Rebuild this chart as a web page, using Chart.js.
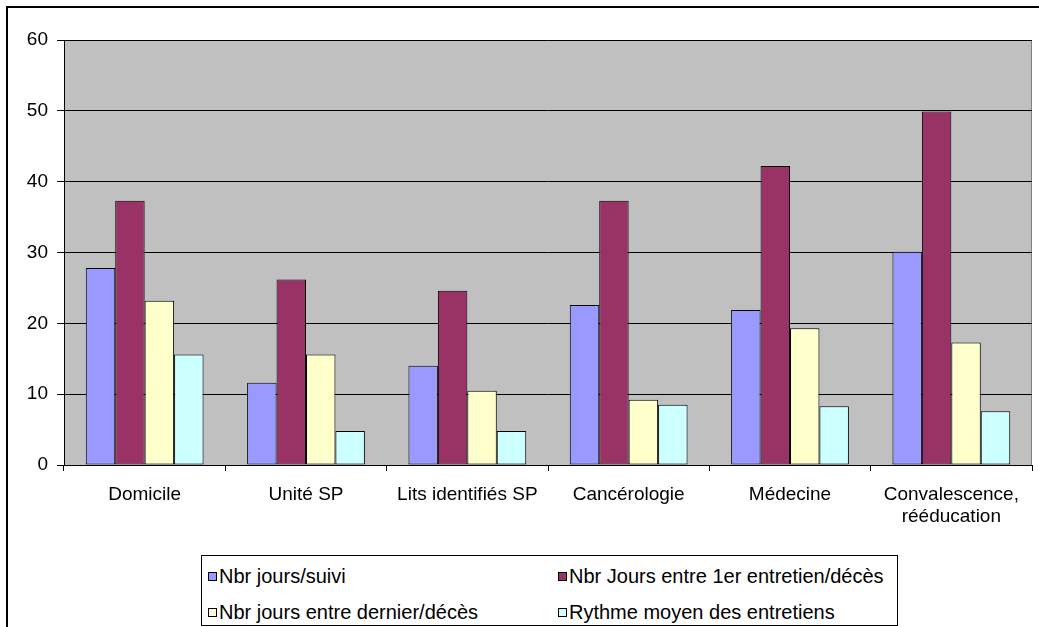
<!DOCTYPE html>
<html>
<head>
<meta charset="utf-8">
<script src="https://cdn.jsdelivr.net/npm/chart.js@4"></script>
<style>
    html, body { margin: 0; padding: 0; background: #fff; }
    #wrap { position: relative; width: 1039px; height: 627px; overflow: hidden; }
    #frame { position: absolute; left: 6px; top: 6px; width: 1100px; height: 700px;
             border-left: 2px solid #000; border-top: 2px solid #000; }
    canvas { position: absolute; left: 0; top: 0; }
    #legend { position: absolute; left: 201px; top: 555px; width: 695px; height: 69px;
              border: 1px solid #000; background: #fff;
              font-family: 'Liberation Sans', Arial, sans-serif; font-size: 20px; color: #000; }
    .item { position: absolute; white-space: nowrap; line-height: 22px; }
    .item i { display: inline-block; width: 7px; height: 7px; border: 1px solid #000;
              margin-right: 2px; vertical-align: 2px; }
</style>
</head>
<body>
<div id="wrap">
    <div id="frame"></div>
    <canvas id="barChart" width="1039" height="627"></canvas>
    <div id="legend"></div>
</div>
<script>
// ============================================
// DATA
// ============================================
const categories = ['Domicile', 'Unité SP', 'Lits identifiés SP', 'Cancérologie', 'Médecine', ['Convalescence,', 'rééducation']];
const seriesNames = ['Nbr jours/suivi', 'Nbr Jours entre 1er entretien/décès', 'Nbr jours entre dernier/décès', 'Rythme moyen des entretiens'];
const joursSuivi     = [27.8, 11.6, 14.0, 22.6, 21.9, 30.1];
const joursPremier   = [37.3, 26.2, 24.6, 37.3, 42.2, 49.9];
const joursDernier   = [23.2, 15.6, 10.5, 9.2, 19.3, 17.3];
const rythmeMoyen    = [15.6, 4.8, 4.8, 8.5, 8.3, 7.6];
const yTicks = [0, 10, 20, 30, 40, 50, 60];

const colors = ['#9999FF', '#993366', '#FFFFCC', '#CCFFFF'];
const font = { family: "'Liberation Sans', Arial, sans-serif", size: 19 };

// gray plot area + gray border top/right
const plotBackground = {
    id: 'plotBackground',
    beforeDraw(chart) {
        const { ctx, chartArea: a } = chart;
        ctx.save();
        ctx.fillStyle = '#C0C0C0';
        ctx.fillRect(a.left, a.top, a.right - a.left, a.bottom - a.top);
        ctx.strokeStyle = '#808080';
        ctx.lineWidth = 1;
        ctx.beginPath();
        ctx.moveTo(a.left, a.top + 0.5);
        ctx.lineTo(a.right - 0.5, a.top + 0.5);
        ctx.lineTo(a.right - 0.5, a.bottom);
        ctx.stroke();
        ctx.restore();
    }
};

const allSeries = [joursSuivi, joursPremier, joursDernier, rythmeMoyen];

new Chart(document.getElementById('barChart').getContext('2d'), {
    type: 'bar',
    data: {
        labels: categories,
        datasets: allSeries.map((values, i) => ({
            label: seriesNames[i],
            data: values,
            backgroundColor: colors[i],
            borderColor: '#000',
            borderWidth: 1,
            borderSkipped: false,
            categoryPercentage: 0.73,
            barPercentage: 1.0
        }))
    },
    options: {
        responsive: false,
        animation: false,
        devicePixelRatio: 1,
        layout: { padding: { left: 0, top: 40, right: 7, bottom: 0 } },
        plugins: {
            legend: { display: false },
            tooltip: { enabled: false }
        },
        scales: {
            x: {
                grid: { drawOnChartArea: false, drawTicks: true, tickLength: 6, color: '#000', offset: true },
                border: { display: true, color: '#000', width: 1 },
                ticks: { color: '#000', font: { ...font, lineHeight: 1.2 }, padding: 12, maxRotation: 0, autoSkip: false },
                afterFit: s => { s.height = 162; }
            },
            y: {
                min: 0, max: 60,
                afterBuildTicks: s => { s.ticks = yTicks.map(v => ({ value: v })); },
                grid: { color: '#000', lineWidth: 1, tickLength: 7, drawTicks: true },
                border: { display: true, color: '#000', width: 1 },
                ticks: { color: '#000', font: font, padding: 9 },
                afterFit: s => { s.width = 64; }
            }
        }
    },
    plugins: [plotBackground]
});

// ============================================
// LEGEND — two columns in a box
// ============================================
const legendEl = document.getElementById('legend');
const legendPos = [[6, 9], [356, 9], [6, 45], [356, 45]];
seriesNames.forEach((name, i) => {
    const item = document.createElement('div');
    item.className = 'item';
    item.style.left = legendPos[i][0] + 'px';
    item.style.top = legendPos[i][1] + 'px';
    item.innerHTML = '<i style="background:' + colors[i] + '"></i>' + name;
    legendEl.appendChild(item);
});
</script>
</body>
</html>
